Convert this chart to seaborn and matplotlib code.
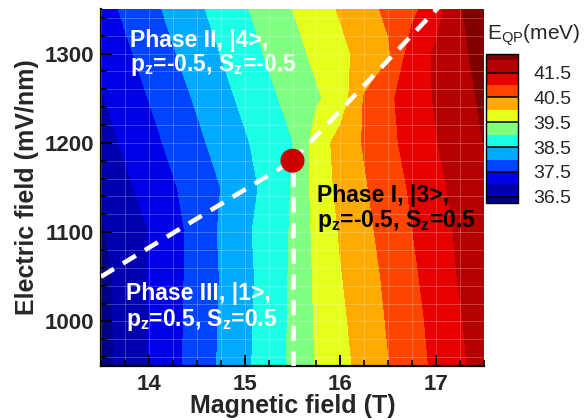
import numpy as np
import matplotlib
matplotlib.use("Agg")
import matplotlib.pyplot as plt
from matplotlib.ticker import MultipleLocator
import seaborn as sns

# sweep grid: magnetic field (T) and electric field (mV/nm)
b_field = [13.5, 13.75, 14.0, 14.25, 14.5, 14.75, 15.0, 15.25, 15.5,
           15.75, 16.0, 16.25, 16.5, 16.75, 17.0, 17.25, 17.5]
e_field = [950, 1000, 1050, 1100, 1150, 1200, 1250, 1300, 1350]

# E_QP (meV), one row per electric field value
eqp_950 = [36.32, 36.67, 37.01, 37.36, 37.71, 38.06, 38.40, 38.74, 39.09,
           39.53, 39.85, 40.16, 40.48, 40.79, 41.10, 41.41, 41.73]
eqp_1000 = [36.32, 36.68, 37.01, 37.35, 37.69, 38.04, 38.38, 38.72, 39.08,
            39.56, 39.90, 40.23, 40.54, 40.84, 41.15, 41.46, 41.78]
eqp_1050 = [36.33, 36.69, 37.00, 37.34, 37.68, 38.02, 38.36, 38.70, 39.07,
            39.59, 39.97, 40.29, 40.60, 40.91, 41.23, 41.54, 41.88]
eqp_1100 = [36.45, 36.72, 37.00, 37.30, 37.70, 38.05, 38.40, 38.72, 39.05,
            39.63, 40.04, 40.37, 40.68, 40.99, 41.29, 41.59, 41.92]
eqp_1150 = [36.62, 36.90, 37.17, 37.45, 37.72, 38.00, 38.27, 38.68, 39.03,
            39.69, 40.13, 40.45, 40.76, 41.07, 41.37, 41.67, 41.96]
eqp_1200 = [36.79, 37.07, 37.34, 37.62, 37.89, 38.17, 38.44, 38.72, 38.99,
            39.72, 40.19, 40.54, 40.87, 41.18, 41.48, 41.74, 42.01]
eqp_1250 = [36.96, 37.24, 37.51, 37.79, 38.06, 38.34, 38.61, 38.89, 39.16,
            39.44, 39.71, 40.54, 40.91, 41.24, 41.55, 41.82, 42.09]
eqp_1300 = [37.13, 37.41, 37.68, 37.96, 38.23, 38.51, 38.78, 39.06, 39.33,
            39.61, 39.88, 40.16, 40.43, 41.24, 41.57, 41.89, 42.20]
eqp_1350 = [37.30, 37.58, 37.85, 38.13, 38.40, 38.68, 38.95, 39.23, 39.50,
            39.78, 40.05, 40.33, 40.60, 40.88, 41.30, 41.97, 42.24]
eqp_rows = [eqp_950, eqp_1000, eqp_1050, eqp_1100, eqp_1150,
            eqp_1200, eqp_1250, eqp_1300, eqp_1350]

# contour levels and colorbar ticks
levels = [36.25, 36.5, 37.0, 37.5, 38.0, 38.5, 39.0, 39.5,
          40.0, 40.5, 41.0, 41.5, 42.0, 42.25]
cbar_ticks = [36.5, 37.5, 38.5, 39.5, 40.5, 41.5]

# phase boundaries and the triple point
lower_x = [13.5, 15.5]
lower_y = [1050, 1180]
vert_x = [15.5, 15.5]
vert_y = [950, 1180]
upper_x = [15.5, 17.06]
upper_y = [1180, 1356]
triple_x = [15.5]
triple_y = [1180]

band_colors = ["#00008a", "#0000b0", "#0000e8", "#0044ff", "#00aaff",
               "#1affe6", "#80ff80", "#e6ff1a", "#ffaa00", "#ff4400",
               "#e60000", "#b40000", "#800000"]

sns.set_theme(style="ticks")
plt.rcParams["font.family"] = ["Liberation Sans", "DejaVu Sans"]
plt.rcParams["mathtext.fontset"] = "custom"
plt.rcParams["mathtext.rm"] = "Liberation Sans"
plt.rcParams["mathtext.bf"] = "Liberation Sans:bold"

fig = plt.figure(figsize=(5.85, 4.2), dpi=100)
ax = fig.add_axes([0.1726, 0.1286, 0.6548, 0.85])
cax = fig.add_axes([0.8308, 0.5167, 0.0547, 0.3548])

Z = np.array(eqp_rows)
cs = ax.contourf(b_field, e_field, Z, levels=levels, colors=band_colors)

# faint mesh lines
ax.set_axisbelow(False)
ax.grid(True, which="both", color="white", alpha=0.28, lw=0.6)

dash_kw = dict(color="white", lw=3.3, solid_capstyle="butt", zorder=3)
for xs, ys in [(lower_x, lower_y), (vert_x, vert_y), (upper_x, upper_y)]:
    ln, = ax.plot(xs, ys, **dash_kw)
    ln.set_dashes((3.3, 2.3))

sns.scatterplot(x=triple_x, y=triple_y, ax=ax, s=300, color="#cc0000",
                edgecolor="none", zorder=4, legend=False)

ax.set_xlim(13.5, 17.5)
ax.set_ylim(950, 1350)
ax.xaxis.set_major_locator(MultipleLocator(1))
ax.xaxis.set_minor_locator(MultipleLocator(0.25))
ax.yaxis.set_major_locator(MultipleLocator(100))
ax.yaxis.set_minor_locator(MultipleLocator(20))
ax.tick_params(which="major", direction="in", length=8, width=1.4,
               color="black", labelsize=16)
ax.tick_params(which="minor", direction="in", length=4, width=1.2,
               color="black")
ax.tick_params(axis="x", pad=6)
ax.tick_params(axis="y", pad=5)
for lab in ax.get_xticklabels() + ax.get_yticklabels():
    lab.set_fontweight("bold")
sns.despine(ax=ax)
for side in ["left", "bottom"]:
    ax.spines[side].set_linewidth(1.6)
    ax.spines[side].set_color("black")

ax.set_xlabel("Magnetic field (T)", fontsize=18, fontweight="bold", labelpad=-1)
ax.set_ylabel("Electric field (mV/nm)", fontsize=18, fontweight="bold", labelpad=4)

txt = dict(fontsize=16.5, fontweight="bold", va="baseline", ha="left")
ax.text(13.80, 1307.8, "Phase II, |4>,", color="white", **txt)
ax.text(13.80, 1280.9, r"p$_\mathbf{z}$=-0.5, S$_\mathbf{z}$=-0.5", color="white", **txt)
ax.text(15.76, 1134.1, "Phase I, |3>,", color="black", **txt)
ax.text(15.76, 1106.1, r"p$_\mathbf{z}$=-0.5, S$_\mathbf{z}$=0.5", color="black", **txt)
ax.text(13.76, 1023.9, "Phase III, |1>,", color="white", **txt)
ax.text(13.76, 994.8, r"p$_\mathbf{z}$=0.5, S$_\mathbf{z}$=0.5", color="white", **txt)

cbar = fig.colorbar(cs, cax=cax, ticks=cbar_ticks, spacing="proportional")
cbar.outline.set_edgecolor("black")
cbar.outline.set_linewidth(1.0)
cax.tick_params(length=0, pad=11, labelsize=14)
cax.set_yticklabels([f"{t:.1f}" for t in cbar_ticks])
for t in cbar_ticks:
    cax.axhline(t, color="black", lw=1.1)
fig.text(0.8325, 0.906, r"E$_\mathrm{QP}$(meV)", fontsize=15, va="baseline", ha="left")

fig.savefig("out.png", dpi=100)
